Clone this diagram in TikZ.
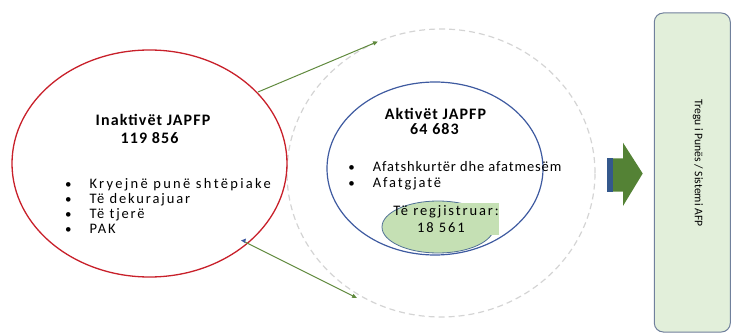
\documentclass[tikz,border=0pt]{standalone}
\usepackage{fontspec}
\setmainfont{Carlito}
\newfontfamily\spacedfont[LetterSpace=13]{Carlito}
\newfontfamily\widefont[LetterSpace=16]{Carlito}
\newfontfamily\narrowfont[LetterSpace=6]{Carlito}
\newfontfamily\titlefont[LetterSpace=7]{Carlito}
\usetikzlibrary{shapes.geometric,arrows.meta}
\definecolor{redc}{RGB}{200,32,42}
\definecolor{bluec}{RGB}{62,90,160}
\definecolor{linegreen}{RGB}{96,138,62}
\definecolor{dashgray}{RGB}{212,212,212}
\definecolor{innerfill}{RGB}{197,224,180}
\definecolor{innerdraw}{RGB}{80,112,150}
\definecolor{arrowgreen}{RGB}{84,130,53}
\definecolor{stripblue}{RGB}{52,88,140}
\definecolor{boxfill}{RGB}{226,239,218}
\definecolor{boxdraw}{RGB}{112,128,156}
\begin{document}
\begin{tikzpicture}[x=1pt,y=-1pt,
  titletext/.style={font=\titlefont\fontsize{16}{18}\selectfont\bfseries, inner sep=0pt, anchor=base},
  itemtext/.style={font=\spacedfont\fontsize{14.5}{16}\selectfont, inner sep=0pt, anchor=base west},
  bul/.style={font=\fontsize{13}{15}\selectfont, inner sep=0pt, anchor=base},
  conn/.style={draw=linegreen, line width=1pt, -{Triangle[length=5pt,width=4pt]}},
]
\useasboundingbox (0,0) rectangle (731,334);

% dashed outer circle
\node[ellipse, draw=dashgray, line width=1.2pt, dash pattern=on 6pt off 4pt,
      minimum width=308pt, minimum height=288pt] (outer) at (441,173) {};

% red ellipse
\node[ellipse, draw=redc, line width=1.3pt, minimum width=275pt, minimum height=227pt] (inact) at (149.5,163.5) {};

% blue ellipse
\node[ellipse, draw=bluec, line width=1.2pt, minimum width=216pt, minimum height=173pt] (akt) at (435,168.5) {};

% inner green ellipse with text box
\node[ellipse, draw=innerdraw, line width=0.8pt, fill=innerfill, minimum width=112pt, minimum height=52pt] (reg) at (438,227) {};
\fill[innerfill] (440,203) rectangle (499,235);

% texts red ellipse
\node[titletext] (t1) at (153,126) {Inaktivët JAPFP};
\node[titletext] (t2) at (149.5,143) {119 856};
\node[bul] (b1) at (68.3,189) {\textbullet};
\node[bul] (b2) at (68.3,203.7) {\textbullet};
\node[bul] (b3) at (68.3,218.3) {\textbullet};
\node[bul] (b4) at (68.3,233) {\textbullet};
\node[itemtext, font=\widefont\fontsize{14.5}{16}\selectfont] (i1) at (89.3,189) {Kryejnë punë shtëpiake};
\node[itemtext] (i2) at (89.3,203.7) {Të dekurajuar};
\node[itemtext] (i3) at (89.3,218.3) {Të tjerë};
\node[itemtext] (i4) at (89.3,233) {PAK};

% texts blue ellipse
\node[titletext] (a1) at (435.5,120) {Aktivët JAPFP};
\node[titletext] (a2) at (434.5,135) {64 683};
\node[bul] (c1) at (351.7,171.5) {\textbullet};
\node[bul] (c2) at (351.7,187) {\textbullet};
\node[itemtext, font=\narrowfont\fontsize{14.5}{16}\selectfont] (j1) at (372.7,171.5) {Afatshkurtër dhe afatmesëm};
\node[itemtext] (j2) at (372.7,187) {Afatgjatë};

% texts green
\node[itemtext, anchor=base] (g1) at (446,215) {Të regjistruar:};
\node[itemtext, anchor=base] (g2) at (441,232) {18 561};

% thin arrows
\coordinate (up0) at (258,92);
\coordinate (up1) at (378,41.5);
\coordinate (lo0) at (245,242);
\coordinate (lo1) at (357,298);
\draw[conn] (up0) -- (up1);
\draw[conn] (lo0) -- (lo1);
\fill[bluec] (lo0) ++(-4,-1.5) -- ++(5,-2) -- ++(-1,4.5) -- cycle;

% block arrow
\fill[arrowgreen] (612,158.3) -- (623,158.3) -- (623,142.7) -- (642.7,173.5) -- (623,206) -- (623,191.7) -- (612,191.7) -- cycle;
\fill[stripblue] (607.3,158.3) rectangle (612.5,191.7);

% right box
\node[draw=boxdraw, line width=1pt, fill=boxfill, rounded corners=9pt, minimum width=76pt, minimum height=319pt, inner sep=0pt] (box) at (692.3,172.5) {};
\node[rotate=-90, font=\fontsize{11.6}{13}\selectfont, inner sep=0pt] (boxtext) at (698,163) {Tregu i Punës / Sistemi AFP};
\end{tikzpicture}
\end{document}
